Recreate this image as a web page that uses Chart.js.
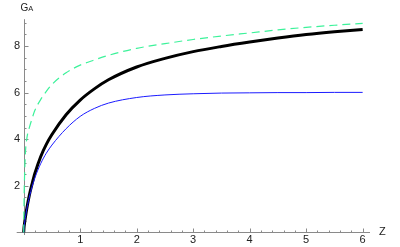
<!DOCTYPE html>
<html>
<head>
<meta charset="utf-8">
<script src="https://cdn.jsdelivr.net/npm/chart.js@4/dist/chart.umd.min.js"></script>
<style>
  body { margin: 0; background: #fff; }
  #wrap { width: 400px; height: 247px; position: relative; }
</style>
</head>
<body>
<div id="wrap"><canvas id="myChart"></canvas></div>
<script>
// values
const zValues = [0, 0.005, 0.015, 0.03, 0.06, 0.1, 0.15, 0.2, 0.3, 0.4, 0.5, 0.75, 1, 1.25, 1.5, 2, 2.5, 3, 3.5, 4, 4.5, 5, 5.5, 6];
const blackValues = [0, 0.2, 0.4, 0.65, 1.1, 1.6, 2.1, 2.55, 3.25, 3.78, 4.2, 5.05, 5.68, 6.16, 6.55, 7.1, 7.47, 7.76, 7.98, 8.17, 8.34, 8.49, 8.61, 8.71];
const blueValues = [0, 0.2, 0.4, 0.65, 1.08, 1.52, 1.98, 2.36, 2.95, 3.4, 3.75, 4.45, 4.98, 5.32, 5.55, 5.79, 5.9, 5.95, 5.98, 5.99, 6.0, 6.0, 6.01, 6.01];
const greenValues = [0, 1.2, 2.4, 3.4, 4.1, 4.5, 4.9, 5.25, 5.7, 6.05, 6.35, 6.85, 7.18, 7.4, 7.6, 7.9, 8.1, 8.28, 8.43, 8.56, 8.69, 8.8, 8.89, 8.97];

const xTickLabels = [1, 2, 3, 4, 5, 6];
const yTickLabels = [2, 4, 6, 8];

const toPoints = (vals) => vals.map((v, i) => ({ x: zValues[i], y: v }));

// Mathematica-style axes through the origin, ticks drawn inward
const axesPlugin = {
  id: 'axes',
  beforeDatasetsDraw(chart) {
    const ctx = chart.ctx;
    const xs = chart.scales.x;
    const ys = chart.scales.y;
    const area = chart.chartArea;
    const x0 = Math.round(xs.getPixelForValue(0)) + 0.5;
    const y0 = Math.round(ys.getPixelForValue(0)) + 0.5;

    ctx.save();
    ctx.strokeStyle = '#8a8a8a';
    ctx.lineWidth = 1;
    ctx.beginPath();
    ctx.moveTo(area.left, y0);
    ctx.lineTo(area.right, y0);
    ctx.moveTo(x0, area.bottom);
    ctx.lineTo(x0, area.top);

    // x ticks
    for (let i = 1; i <= 30; i++) {
      const px = Math.round(xs.getPixelForValue(i * 0.2)) + 0.5;
      const len = i % 5 === 0 ? 4 : 2;
      ctx.moveTo(px, y0);
      ctx.lineTo(px, y0 - len);
    }
    // y ticks
    for (let i = 1; i <= 18; i++) {
      const py = Math.round(ys.getPixelForValue(i * 0.5)) + 0.5;
      const len = i % 4 === 0 ? 4 : 2;
      ctx.moveTo(x0, py);
      ctx.lineTo(x0 + len, py);
    }
    ctx.stroke();

    ctx.fillStyle = '#222';
    ctx.font = '11px "Liberation Sans", Arial, sans-serif';
    ctx.textAlign = 'center';
    ctx.textBaseline = 'alphabetic';
    xTickLabels.forEach((t) => {
      ctx.fillText(String(t), xs.getPixelForValue(t), 242.5);
    });
    ctx.textAlign = 'right';
    ctx.textBaseline = 'middle';
    yTickLabels.forEach((t) => {
      ctx.fillText(String(t), 20, ys.getPixelForValue(t));
    });

    // axis labels
    ctx.textAlign = 'left';
    ctx.textBaseline = 'middle';
    ctx.fillText('Z', 379, 232);
    ctx.textBaseline = 'alphabetic';
    ctx.font = '10px "Liberation Sans", Arial, sans-serif';
    ctx.fillText('G', 20.5, 11);
    const gw = ctx.measureText('G').width;
    ctx.font = '7.5px "Liberation Sans", Arial, sans-serif';
    ctx.fillText('A', 20.5 + gw, 11);
    ctx.restore();
  }
};

new Chart('myChart', {
  type: 'line',
  data: {
    datasets: [{
      label: 'black',
      data: toPoints(blackValues),
      borderColor: '#000',
      borderWidth: 3,
      order: 3
    }, {
      label: 'blue',
      data: toPoints(blueValues),
      borderColor: '#1a1aff',
      borderWidth: 1,
      order: 2
    }, {
      label: 'green',
      data: toPoints(greenValues),
      borderColor: '#3cf29a',
      borderWidth: 1.2,
      borderDash: [8, 5],
      order: 1
    }]
  },
  options: {
    responsive: true,
    maintainAspectRatio: false,
    animation: false,
    layout: { padding: { left: 16.7, right: 30, top: 19.2, bottom: 12 } },
    elements: {
      point: { radius: 0 },
      line: { cubicInterpolationMode: 'monotone', fill: false }
    },
    scales: {
      x: { type: 'linear', min: -0.124, max: 6.13, display: false },
      y: { type: 'linear', min: -0.11, max: 9.15, display: false }
    },
    plugins: {
      legend: { display: false },
      tooltip: { enabled: false }
    }
  },
  plugins: [axesPlugin]
});
</script>
</body>
</html>
